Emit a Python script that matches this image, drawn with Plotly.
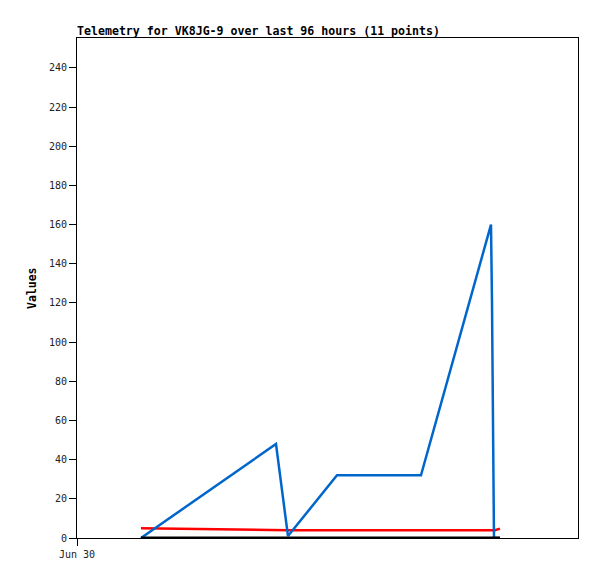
import plotly.graph_objects as go
from datetime import datetime, timedelta

start = datetime(2025, 6, 30, 0, 0)
hours = [12.26, 38.13, 40.43, 49.82, 65.91, 79.33, 79.52, 79.71, 79.90, 80.09, 81.05]
blue_vals = [0, 48, 1, 32, 32, 160, 120, 40, 0, 0, 0]
red_vals = [5.0, 4.0, 4.0, 4.0, 4.0, 4.0, 4.0, 4.0, 4.0, 4.0, 4.8]
black_vals = [0, 0, 0, 0, 0, 0, 0, 0, 0, 0, 0]
x_tick_labels = ["Jun 30"]

times = [start + timedelta(hours=h) for h in hours]
x_end = start + timedelta(hours=96)

fig = go.Figure()
fig.add_trace(go.Scatter(x=times, y=red_vals, mode="lines",
                         line=dict(color="#FF0000", width=2.5), showlegend=False))
fig.add_trace(go.Scatter(x=times, y=blue_vals, mode="lines",
                         line=dict(color="#0066CC", width=2.5), showlegend=False))
fig.add_trace(go.Scatter(x=times, y=black_vals, mode="lines",
                         line=dict(color="#000000", width=3), showlegend=False))

mono = "DejaVu Sans Mono"
# page body has an 8px default margin, so the figure is sized to fit the window
W, H = 589, 571
fig.update_layout(
    width=W, height=H,
    margin=dict(l=69, r=19, t=30, b=41, autoexpand=False),
    paper_bgcolor="white", plot_bgcolor="white",
    title=dict(text="<b>Telemetry for VK8JG-9 over last 96 hours (11 points)</b>",
               font=dict(family=mono, size=11.6, color="black"),
               xref="paper", x=0, xanchor="left",
               yref="container", y=1 - 27 / H, yanchor="bottom"),
    xaxis=dict(type="date", range=[start, x_end], automargin=False,
               tickvals=[start], ticktext=x_tick_labels,
               ticks="outside", ticklen=7, tickcolor="black",
               showgrid=False, zeroline=False,
               showline=True, linecolor="black", linewidth=1, mirror=True,
               tickfont=dict(family=mono, size=10, color="#222")),
    yaxis=dict(range=[0, 255.3], tickmode="array", automargin=False,
               tickvals=list(range(0, 241, 20)),
               ticks="outside", ticklen=7, tickcolor="black",
               showgrid=False, zeroline=False,
               showline=True, linecolor="black", linewidth=1, mirror=True,
               tickfont=dict(family=mono, size=10, color="#222")),
    annotations=[dict(text="<b>Values</b>", textangle=-90,
                      xref="paper", yref="paper", x=-(69 - 24) / 501, y=0.5,
                      xanchor="center", yanchor="middle", showarrow=False,
                      font=dict(family=mono, size=11.5, color="black"))],
)

fig.write_html("out.html")
